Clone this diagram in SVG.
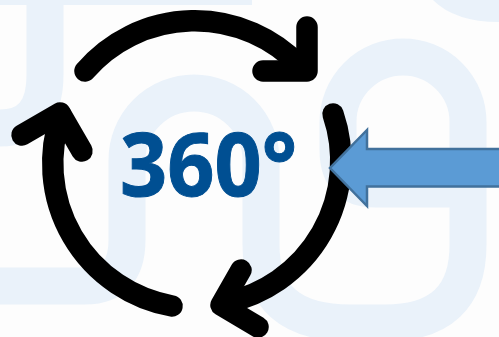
<svg xmlns="http://www.w3.org/2000/svg" width="499" height="337" viewBox="0 0 499 337">
<style>
.bg{fill:none;stroke:#EAF2FA;stroke-width:37}
.ring{fill:none;stroke:#000;stroke-width:21.5;stroke-linecap:round;stroke-linejoin:round}
text{font-family:"Open Sans",sans-serif;font-weight:700;font-size:88px;fill:#004F92;stroke:#004F92;stroke-width:1}
</style>
<rect width="499" height="337" fill="#FDFDFD"/>
<g id="background">
<path d="M0 0H252V5H0Z" fill="#EAF2FA"/>
<path class="bg" d="M45 0V75Q45 128 0 128"/>
<path class="bg" d="M0 286H85Q127 286 127 240V160A67 67 0 0 1 261 160V245Q261 323 350 323H385Q468 323 468 245V122A65 65 0 0 0 338 122V150Q338 189 375 189H468"/>
<path d="M433 0Q455 22 499 22V0Z" fill="#EAF2FA"/>
</g>
<g id="connectors">
<path class="ring" d="M85 71A145 145 0 0 1 300 66"/>
<path class="ring" d="M263 71H307V27"/>
<path class="ring" d="M172 306A145 145 0 0 1 61 115"/>
<path class="ring" d="M22 135L60 113L82 151"/>
<path class="ring" d="M333 114A145 145 0 0 1 225 303"/>
<path class="ring" d="M241 270L221 305L258 327"/>
</g>
<g id="label"><text x="120" y="196" textLength="177" lengthAdjust="spacingAndGlyphs">360°</text></g>
<g id="arrow"><path d="M499 149H367V130L330 168L367 206V186.500H499" fill="#5B9BD5" stroke="#41719C" stroke-width="2.500"/></g>
</svg>
